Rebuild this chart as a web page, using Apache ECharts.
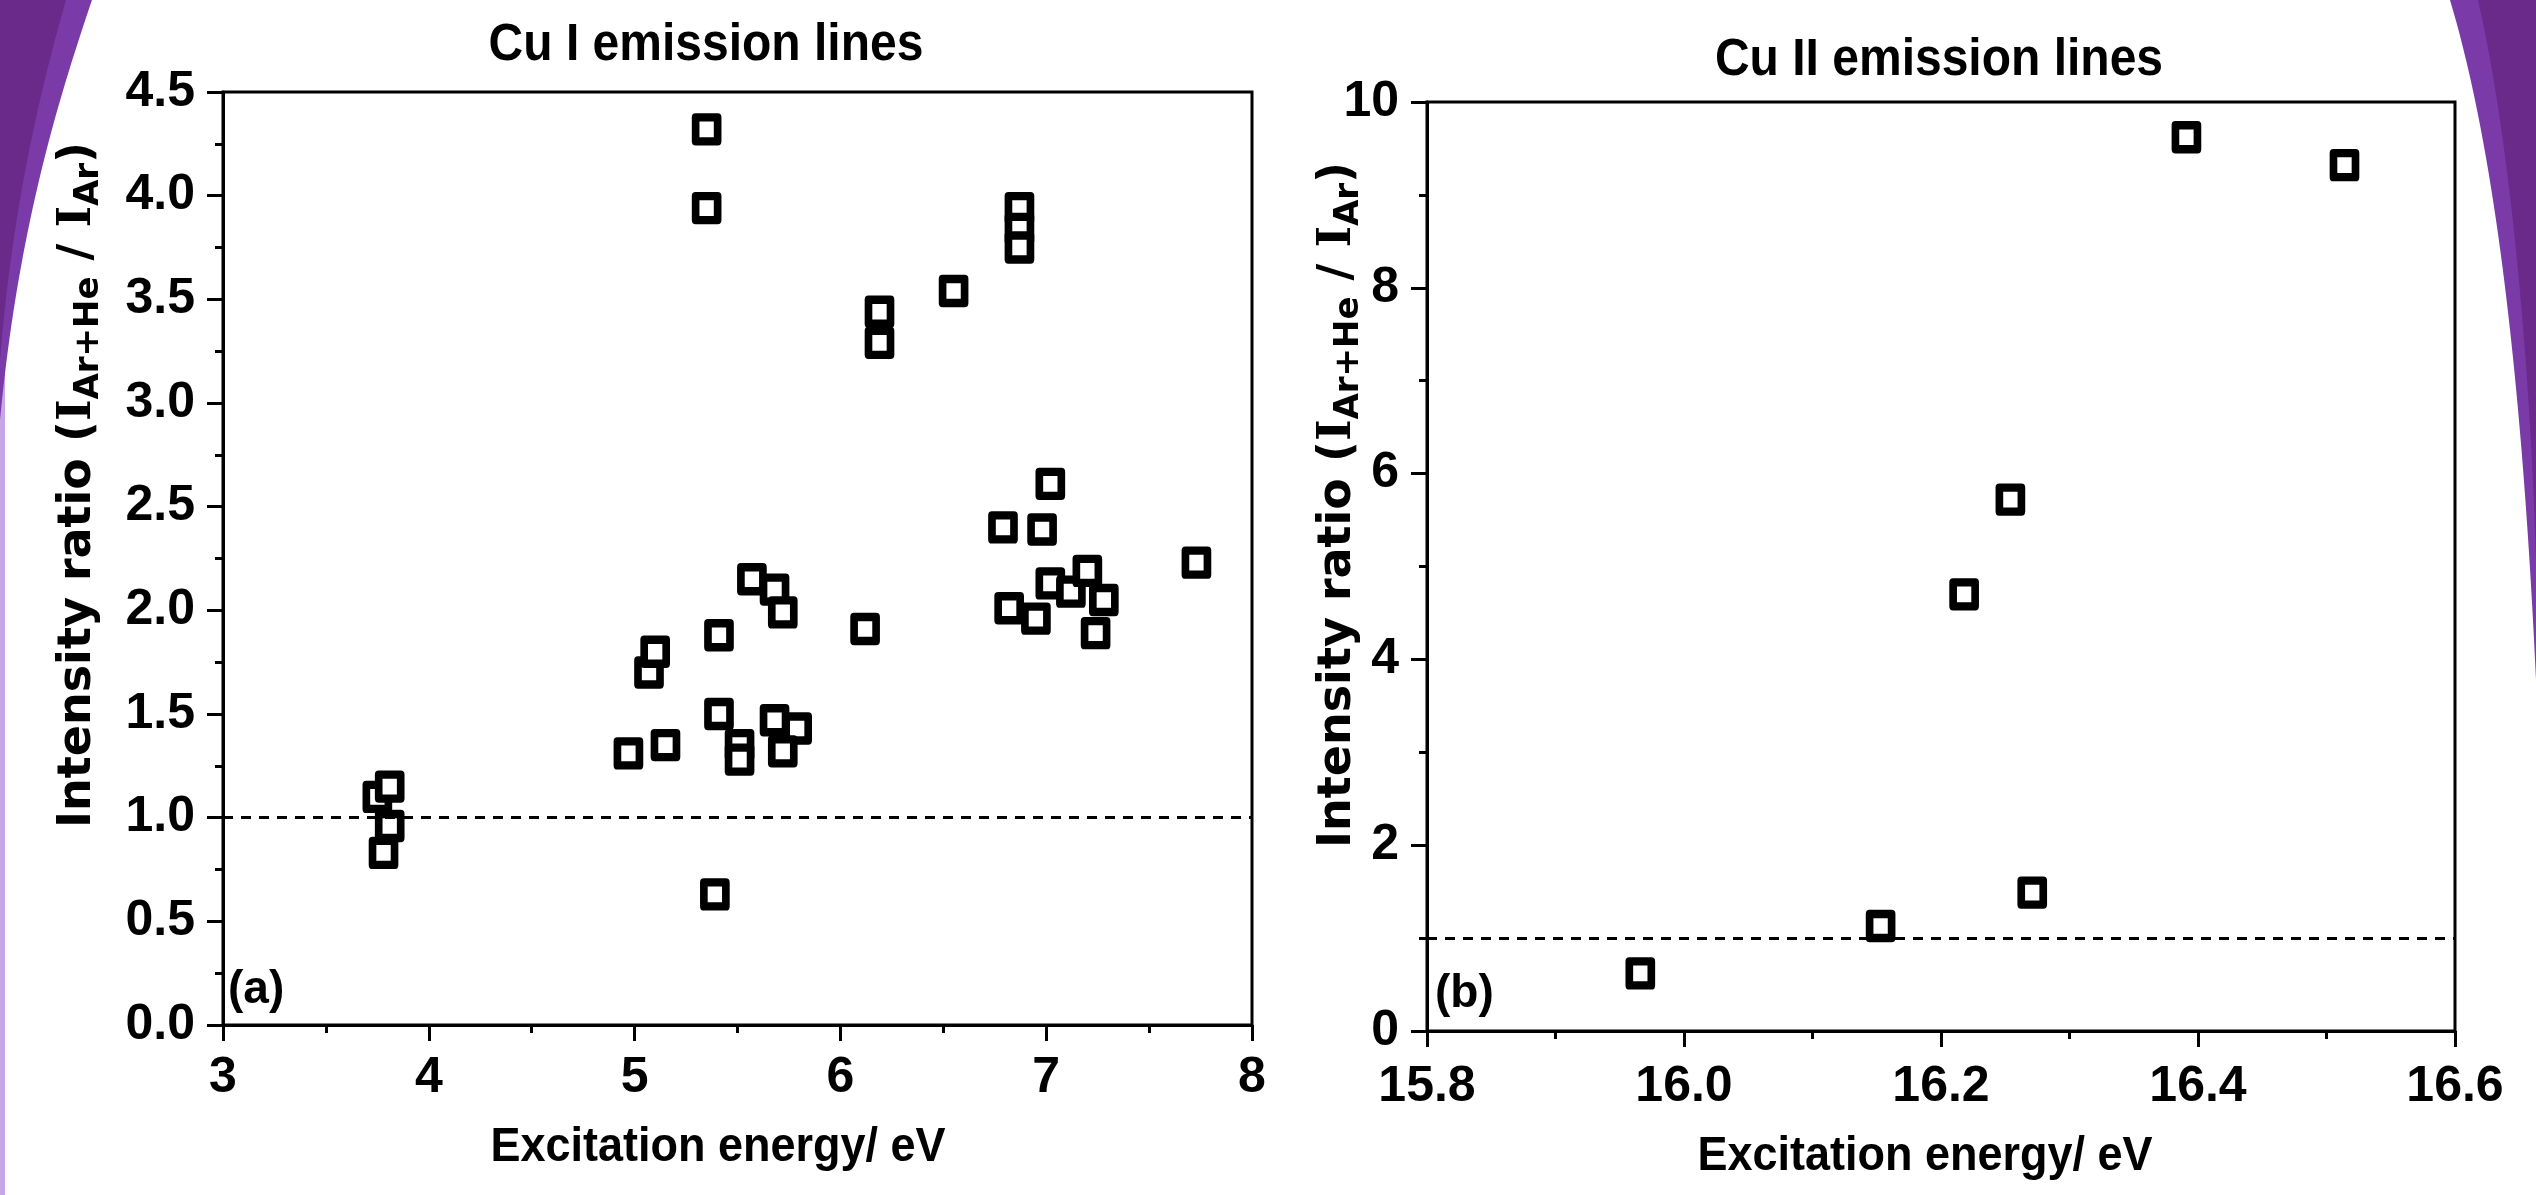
<!DOCTYPE html>
<html>
<head>
<meta charset="utf-8">
<script src="https://cdn.jsdelivr.net/npm/echarts@6/dist/echarts.min.js"></script>
<style>
html,body{margin:0;padding:0;background:#fff;}
#chart{width:2536px;height:1195px;}
</style>
</head>
<body>
<div id="chart"></div>
<script>
// ---- data ----
const cuI_energy = [3.75,3.81,3.81,3.78,4.97,5.07,5.10,5.15,5.35,5.35,5.39,5.41,5.41,5.51,5.51,5.57,5.68,5.72,5.68,5.79,5.72,6.12,6.19,6.19,6.55,6.79,6.82,6.87,6.87,6.87,6.95,6.98,7.02,7.02,7.12,7.20,7.28,7.24,7.73];
const cuI_ratio  = [1.10,1.15,0.96,0.83,1.31,1.70,1.80,1.35,4.32,3.94,0.63,1.88,1.50,1.35,1.28,2.15,2.10,1.99,1.47,1.43,1.32,1.91,3.44,3.29,3.54,2.40,2.01,3.94,3.84,3.75,1.96,2.39,2.61,2.13,2.09,2.19,2.05,1.89,2.23];
const cuII_energy = [15.966,16.153,16.218,16.254,16.271,16.391,16.514];
const cuII_ratio  = [0.62,1.13,4.70,5.72,1.49,9.62,9.32];
const refLine = 1.0;
const titles = ['Cu I emission lines','Cu II emission lines'];
const panelLabels = ['(a)','(b)'];
const xTitle = 'Excitation energy/ eV';

const cuI = cuI_energy.map((x,i)=>[x,cuI_ratio[i]]);
const cuII = cuII_energy.map((x,i)=>[x,cuII_ratio[i]]);

const BLACK = '#000';
const tickFont = {fontFamily:'Liberation Sans, Arial, sans-serif', fontWeight:'bold', fontSize:50, color:BLACK};

function xAxisCfg(g, min, max, interval, fmt, margin){
  return {gridIndex:g, type:'value', min:min, max:max, interval:interval,
    axisLine:{show:true, onZero:false, lineStyle:{color:BLACK, width:3}},
    axisTick:{show:true, inside:false, length:16, lineStyle:{color:BLACK, width:3}},
    minorTick:{show:true, splitNumber:2, length:8, lineStyle:{color:BLACK, width:3}},
    splitLine:{show:false}, minorSplitLine:{show:false},
    axisLabel:Object.assign({margin:margin, formatter:fmt}, tickFont)};
}
function yAxisCfg(g, min, max, interval, fmt){
  return {gridIndex:g, type:'value', min:min, max:max, interval:interval,
    axisLine:{show:true, onZero:false, lineStyle:{color:BLACK, width:3}},
    axisTick:{show:true, inside:false, length:16, lineStyle:{color:BLACK, width:3}},
    minorTick:{show:true, splitNumber:2, length:8, lineStyle:{color:BLACK, width:3}},
    splitLine:{show:false}, minorSplitLine:{show:false},
    axisLabel:Object.assign({margin:28, formatter:fmt}, tickFont)};
}
const markerStyle = {color:'#fff', borderColor:BLACK, borderWidth:8, borderJoin:'round', opacity:1};
function refMark(){
  return {silent:true, symbol:'none', label:{show:false},
    lineStyle:{color:BLACK, width:3, type:[10,8], opacity:1}, data:[{yAxis:refLine}]};
}

const yTitleRich = {
  m:{fontFamily:'DejaVu Sans', fontWeight:'bold', fontSize:46, color:BLACK, lineHeight:56},
  i:{fontFamily:'DejaVu Serif', fontWeight:'bold', fontSize:46, color:BLACK, lineHeight:56},
  s:{fontFamily:'DejaVu Sans', fontWeight:'bold', fontSize:34, color:BLACK, lineHeight:26, verticalAlign:'bottom'}
};
const yTitleText = '{m|Intensity ratio (}{i|I}{s|Ar+He}{m| / }{i|I}{s|Ar}{m|)}';

const titleFont = {fontFamily:'Liberation Sans, Arial, sans-serif', fontWeight:'bold', fontSize:48, fill:BLACK};

// decorative corner shapes (cubic bezier sampled into polygon points)
function bez(p0,p1,p2,p3,n){
  const pts=[];
  for(let i=0;i<=n;i++){const t=i/n,u=1-t;
    pts.push([u*u*u*p0[0]+3*u*u*t*p1[0]+3*u*t*t*p2[0]+t*t*t*p3[0],
              u*u*u*p0[1]+3*u*u*t*p1[1]+3*u*t*t*p2[1]+t*t*t*p3[1]]);}
  return pts;
}
const leftCornerLight = [[0,0]].concat(bez([92,0],[58,100],[18,230],[0,420],40));
const leftCorner = [[0,0]].concat(bez([66,0],[40,90],[12,210],[0,360],40));
const rightCornerLight = [[2536,0]].concat(bez([2450,0],[2495,150],[2522,380],[2536,680],40));
const rightCorner = [[2536,0]].concat(bez([2478,0],[2510,140],[2530,360],[2536,560],40));

const option = {
  animation:false,
  backgroundColor:'#fff',
  grid:[
    {left:223, top:92, width:1029, height:933, show:true, borderColor:BLACK, borderWidth:3, backgroundColor:'transparent'},
    {left:1427, top:102, width:1028, height:929, show:true, borderColor:BLACK, borderWidth:3, backgroundColor:'transparent'}
  ],
  xAxis:[
    xAxisCfg(0, 3, 8, 1, v=>v.toFixed(0), 28),
    xAxisCfg(1, 15.8, 16.6, 0.2, v=>v.toFixed(1), 31)
  ],
  yAxis:[
    yAxisCfg(0, 0, 4.5, 0.5, v=>v.toFixed(1)),
    yAxisCfg(1, 0, 10, 2, v=>v.toFixed(0))
  ],
  series:[
    {type:'scatter', xAxisIndex:0, yAxisIndex:0, data:cuI, symbol:'rect', symbolSize:[22,24], itemStyle:markerStyle, markLine:refMark(), z:3},
    {type:'scatter', xAxisIndex:1, yAxisIndex:1, data:cuII, symbol:'rect', symbolSize:[22,24], itemStyle:markerStyle, markLine:refMark(), z:3}
  ],
  graphic:[
    {type:'rect', shape:{x:0,y:0,width:5,height:1195}, style:{fill:'#c6a6e6'}, z:-10},
    {type:'polygon', shape:{points:leftCornerLight}, style:{fill:'#7a3aa8'}, z:-10},
    {type:'polygon', shape:{points:leftCorner}, style:{fill:'#6a2a8a'}, z:-9},
    {type:'polygon', shape:{points:rightCornerLight}, style:{fill:'#7a3aa8'}, z:-10},
    {type:'polygon', shape:{points:rightCorner}, style:{fill:'#6a2a8a'}, z:-9},
    {type:'text', x:706, y:46, scaleY:1.08, style:Object.assign({text:titles[0], align:'center', verticalAlign:'middle'}, titleFont)},
    {type:'text', x:1939, y:61, scaleY:1.08, style:Object.assign({text:titles[1], align:'center', verticalAlign:'middle'}, titleFont)},
    {type:'text', x:718, y:1148, scaleY:1.08, style:Object.assign({text:xTitle, align:'center', verticalAlign:'middle'}, titleFont, {fontSize:45})},
    {type:'text', x:1925, y:1157, scaleY:1.08, style:Object.assign({text:xTitle, align:'center', verticalAlign:'middle'}, titleFont, {fontSize:45})},
    {type:'text', x:228, y:990, style:Object.assign({text:panelLabels[0], align:'left', verticalAlign:'middle'}, titleFont, {fontSize:46})},
    {type:'text', x:1435, y:994, style:Object.assign({text:panelLabels[1], align:'left', verticalAlign:'middle'}, titleFont, {fontSize:46})},
    {type:'text', x:78, y:485, rotation:Math.PI/2, style:{text:yTitleText, rich:yTitleRich, align:'center', verticalAlign:'middle'}},
    {type:'text', x:1338, y:505, rotation:Math.PI/2, style:{text:yTitleText, rich:yTitleRich, align:'center', verticalAlign:'middle'}}
  ]
};
const chart = echarts.init(document.getElementById('chart'), null, {renderer:'canvas'});
chart.setOption(option);
</script>
</body>
</html>
